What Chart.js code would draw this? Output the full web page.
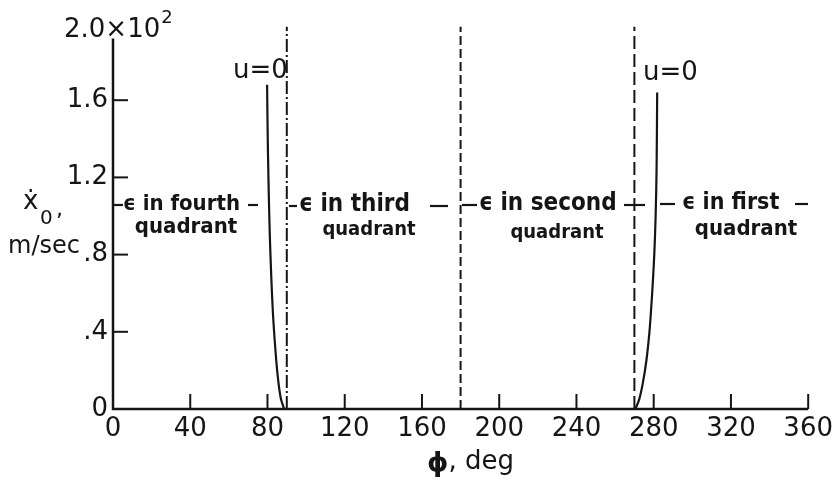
<!DOCTYPE html>
<html><head><meta charset="utf-8">
<script src="https://cdn.jsdelivr.net/npm/chart.js@4"></script>
<style>html,body{margin:0;padding:0;background:#fff}</style>
</head><body>
<canvas id="c" width="838" height="485"></canvas>
<script>
// ---- data ----
const xTickLabels = ['0','40','80','120','160','200','240','280','320','360'];
const yTickLabels = ['0','.4','.8','1.2','1.6',''];
const yTopLabel = '2.0×10';
const yTopExp = '2';
const xAxisTitle = ['ϕ', ', deg'];
const yAxisTitle = ['ẋ', '0', ',', 'm/sec'];

// u = 0 curve near phi = 90 deg (x0 in units of 10^2 m/sec)
const leftCurvePhi = [79.8, 80.0, 80.3, 80.7, 81.2, 81.9, 82.8, 84.0, 85.3, 86.8, 88.6];
const leftCurveX0  = [1.68, 1.50, 1.30, 1.10, 0.90, 0.70, 0.50, 0.32, 0.17, 0.06, 0.0];
// u = 0 curve near phi = 270 deg
const rightCurvePhi = [270.5, 272.5, 274.3, 276.2, 277.8, 279.2, 280.3, 281.0, 281.5, 281.8];
const rightCurveX0  = [0.0, 0.05, 0.13, 0.25, 0.40, 0.60, 0.80, 1.00, 1.25, 1.64];
// quadrant boundaries
const boundaryPhi = [90, 180, 270];
const boundaryTop = 1.98;
const curveLabels = ['u=0', 'u=0'];
const quadrantLine1 = ['ϵ in fourth', 'ϵ in third', 'ϵ in second', 'ϵ in first'];
const quadrantLine2 = ['quadrant', 'quadrant', 'quadrant', 'quadrant'];

const INK = '#151515';
const FONT = "'DejaVu Sans'";
const BFONT = "'DejaVu Sans Condensed', 'DejaVu Sans'";

function pts(xs, ys){ return xs.map((v,i)=>({x:v, y:ys[i]})); }

const boundaryDash = [[13,3,2,3],[9,4],[13,5]];
const datasets = [
  {data: pts(leftCurvePhi, leftCurveX0), borderColor: INK, borderWidth: 2.2, tension: 0.3},
  {data: pts(rightCurvePhi, rightCurveX0), borderColor: INK, borderWidth: 2.2, tension: 0.3},
].concat(boundaryPhi.map((p,i)=>({
  data: [{x:p, y:0},{x:p, y:boundaryTop}], borderColor: INK, borderWidth: 2, borderDash: boundaryDash[i]
})));
datasets.forEach(d=>{ d.showLine = true; d.pointRadius = 0; d.fill = false; });

const overlay = {
  id: 'overlay',
  afterDraw(chart){
    const {ctx} = chart; const x = chart.scales.x, y = chart.scales.y;
    const x0 = x.getPixelForValue(0), y0 = y.getPixelForValue(0);
    ctx.save();
    ctx.strokeStyle = INK; ctx.fillStyle = INK;
    // axes
    ctx.lineWidth = 2.5;
    ctx.beginPath();
    ctx.moveTo(x0, y.getPixelForValue(1.92));
    ctx.lineTo(x0, y0);
    ctx.lineTo(x.getPixelForValue(360), y0);
    ctx.stroke();
    // inward tick marks
    ctx.lineWidth = 2;
    x.ticks.forEach((t,i)=>{ if(i===0) return; const px = x.getPixelForValue(t.value);
      ctx.beginPath(); ctx.moveTo(px, y0); ctx.lineTo(px, y0-15); ctx.stroke(); });
    y.ticks.forEach((t,i)=>{ if(i===0 || i===y.ticks.length-1) return; const py = y.getPixelForValue(t.value);
      ctx.beginPath(); ctx.moveTo(x0, py); ctx.lineTo(x0+15, py); ctx.stroke(); });

    ctx.textBaseline = 'middle';
    // top y label 2.0x10^2
    ctx.textAlign = 'left';
    ctx.font = `26px ${FONT}`;
    ctx.fillText(yTopLabel, 64, 30);
    const w = ctx.measureText(yTopLabel).width;
    ctx.font = `18px ${FONT}`;
    ctx.fillText(yTopExp, 64 + w + 1, 18);

    // y axis title
    ctx.font = `26px ${FONT}`;
    ctx.fillText(yAxisTitle[0], 23, 202);
    ctx.font = `20px ${FONT}`;
    ctx.fillText(yAxisTitle[1], 40, 219);
    ctx.font = `22px ${FONT}`;
    ctx.fillText(yAxisTitle[2], 56, 210);
    ctx.font = `24px ${FONT}`;
    ctx.fillText(yAxisTitle[3], 8, 247);

    // x axis title
    ctx.font = `bold 27px ${FONT}`;
    ctx.fillText(xAxisTitle[0], 427, 464);
    const wp = ctx.measureText(xAxisTitle[0]).width;
    ctx.font = `26px ${FONT}`;
    ctx.fillText(xAxisTitle[1], 427 + wp, 462);

    // u=0 labels
    ctx.font = `26px ${FONT}`;
    ctx.fillText(curveLabels[0], 233, 71);
    ctx.fillText(curveLabels[1], 643, 73);

    // quadrant annotations
    const ann = [
      {x1:123, y1:204, s1:22, cx:186, y2:227, s2:22, dashes:[[113,123],[248,258]]},
      {x1:299, y1:205, s1:24, cx:369, y2:230, s2:20, dashes:[[289,297],[430,448]]},
      {x1:479, y1:204, s1:24, cx:557, y2:233, s2:20, dashes:[[462,477],[624,645]]},
      {x1:682, y1:203, s1:23, cx:746, y2:229, s2:22, dashes:[[660,675],[795,808]]},
    ];
    ctx.lineWidth = 2.2;
    ann.forEach((a,i)=>{
      ctx.textAlign = 'left';
      ctx.font = `bold ${a.s1}px ${BFONT}`;
      ctx.fillText(quadrantLine1[i], a.x1, a.y1);
      ctx.textAlign = 'center';
      ctx.font = `bold ${a.s2}px ${BFONT}`;
      ctx.fillText(quadrantLine2[i], a.cx, a.y2);
      a.dashes.forEach(d=>{ ctx.beginPath(); ctx.moveTo(d[0], a.y1+1); ctx.lineTo(d[1], a.y1+1); ctx.stroke(); });
    });
    ctx.restore();
  }
};

new Chart(document.getElementById('c'), {
  type: 'scatter',
  data: {datasets},
  options: {
    responsive: false, animation: false, devicePixelRatio: 1,
    layout: {padding: {left: 0, top: 23, right: 29, bottom: 0}},
    plugins: {legend: {display: false}, tooltip: {enabled: false}},
    scales: {
      x: {
        type: 'linear', min: 0, max: 360,
        ticks: {stepSize: 40, padding: 5, color: INK, font: {family: 'DejaVu Sans', size: 26},
          callback: (v, i) => xTickLabels[i]},
        grid: {display: false, drawTicks: false}, border: {display: false},
        afterFit: s => { s.height = 76; }
      },
      y: {
        type: 'linear', min: 0, max: 2.0,
        ticks: {stepSize: 0.4, padding: 5, color: INK, font: {family: 'DejaVu Sans', size: 26},
          callback: (v, i) => yTickLabels[i]},
        grid: {display: false, drawTicks: false}, border: {display: false},
        afterFit: s => { s.width = 113; }
      }
    }
  },
  plugins: [overlay]
});
</script>
</body></html>
